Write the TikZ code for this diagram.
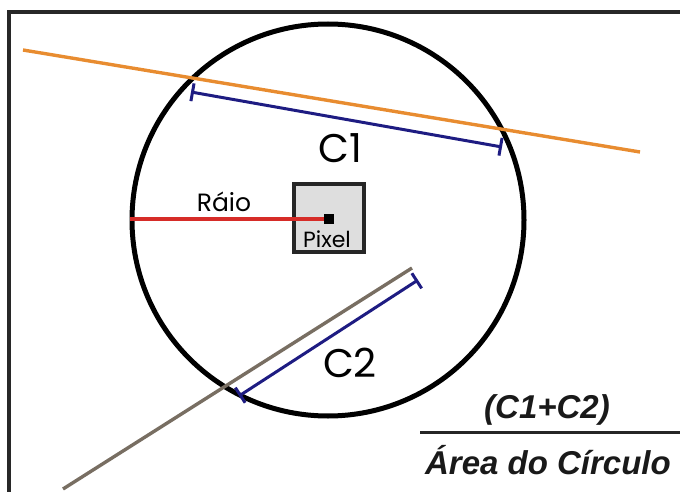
\documentclass[tikz,border=0pt]{standalone}
\usepackage{fontspec}
\setmainfont{Liberation Sans}
\newfontfamily\geofont{Poppins}
\usetikzlibrary{arrows.meta}
\definecolor{framecolor}{RGB}{40, 40, 40}
\definecolor{orangeline}{RGB}{232, 140, 48}
\definecolor{chordcolor}{RGB}{30, 28, 130}
\definecolor{radiuscolor}{RGB}{214, 44, 40}
\definecolor{grayline}{RGB}{120, 110, 98}
\definecolor{pixelfill}{RGB}{222, 222, 222}
\tikzset{
frame/.style={
  draw=framecolor,
  line width=3.6pt
},
secant/.style={
  line width=3.4pt
},
chord/.style={
  {Bar[width=18pt,line width=3pt]}-{Bar[width=18pt,line width=3pt]},
  draw=chordcolor,
  line width=3pt
},
label/.style={
  font=\geofont\fontsize{25}{27}\selectfont,
  text=black,
  inner sep=0pt
},
biglabel/.style={
  font=\geofont\fontsize{40}{42}\selectfont,
  text=black,
  inner sep=0pt
},
fraclabel/.style={
  font=\bfseries\itshape\fontsize{33}{35}\selectfont,
  text=black!90,
  inner sep=0pt
}
}
\begin{document}
\begin{tikzpicture}[x=1pt, y=-1pt]
  % canvas in pixel units
  \useasboundingbox (0,0) rectangle (680,492);
  \clip (0,0) rectangle (680,492);
  \draw[frame] (9,12) rectangle (720,530);

  % circle and pixel
  \node[draw, circle, line width=5pt, minimum size=392pt, inner sep=0pt] (circ) at (328,220) {};
  \node[draw=black!85, fill=pixelfill, line width=3.4pt, minimum width=70pt,
        minimum height=68pt, inner sep=0pt] (pixel) at (329,218) {};
  \node[label, font=\geofont\fontsize{22}{24}\selectfont, anchor=base] (pixtext) at (327,247) {Pixel};

  % radius
  \node[fill=black, minimum size=10pt, inner sep=0pt] (dot) at (329,219) {};
  \draw[radiuscolor, line width=3.4pt] (circ.west |- dot) -- (dot.west);
  \node[label, anchor=base] (raio) at (224,211) {Ráio};

  % secant 1 and chord C1
  \coordinate (s1a) at (23,50);
  \coordinate (s1b) at (640,152);
  \draw[secant, orangeline] (s1a) -- (s1b);
  \coordinate (c1a) at (191,92);
  \coordinate (c1b) at (502,147);
  \draw[chord] (c1a) -- (c1b);
  \node[biglabel, anchor=base] (c1) at (340,162) {C1};

  % secant 2 and chord C2
  \coordinate (s2a) at (63,489);
  \coordinate (s2b) at (412,268);
  \draw[secant, grayline] (s2a) -- (s2b);
  \coordinate (c2a) at (239,396);
  \coordinate (c2b) at (418,280);
  \draw[chord] (c2a) -- (c2b);
  \node[biglabel, anchor=base] (c2) at (350,377) {C2};

  % fraction
  \node[fraclabel, anchor=base] (num) at (547,418) {(C1+C2)};
  \node[fraclabel, anchor=base] (den) at (548,474) {Área do Círculo};
  \coordinate (fl) at (420,432);
  \coordinate (fr) at (680,432);
  \draw[line width=3pt, black!85] (fl) -- (fr);
\end{tikzpicture}
\end{document}
